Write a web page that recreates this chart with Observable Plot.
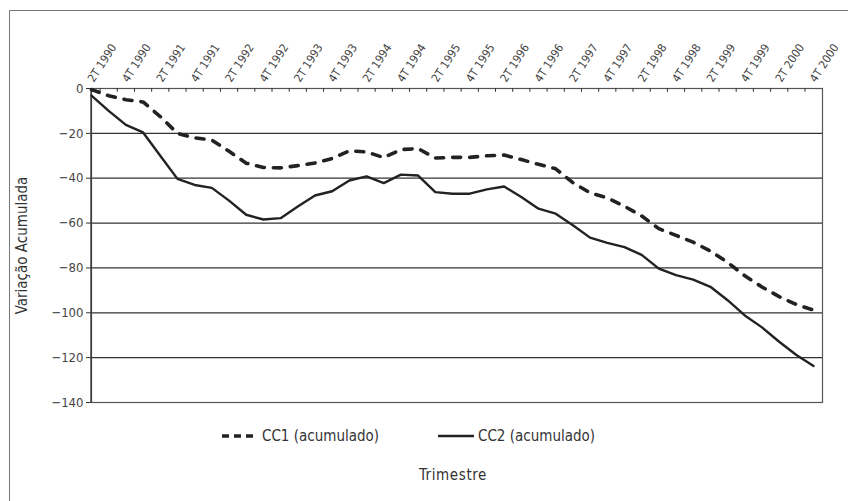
<!DOCTYPE html>
<html>
<head>
<meta charset="utf-8">
<script src="https://cdn.jsdelivr.net/npm/d3@7"></script>
<script src="https://cdn.jsdelivr.net/npm/@observablehq/plot@0.6"></script>
<style>
  html, body { margin: 0; padding: 0; background: #fff; }
  body { width: 848px; height: 501px; overflow: hidden; position: relative; font-family: "DejaVu Sans Condensed", "DejaVu Sans", sans-serif; color: #333; }
  #border { position: absolute; left: 9px; top: 10px; width: 900px; height: 600px; border: 1px solid #777; box-sizing: border-box; }
  #chart { position: absolute; left: 0; top: 0; }
  #legend { position: absolute; top: 424px; left: 0; width: 848px; height: 24px; font-size: 15px; }
  .leg { position: absolute; top: 0; display: flex; align-items: center; height: 24px; }
  #xtitle { position: absolute; top: 466px; left: 0; width: 906px; text-align: center; font-size: 15px; letter-spacing: 0.6px; }
</style>
</head>
<body>
<div id="border"></div>
<div id="chart"></div>
<div id="legend"></div>
<div id="xtitle">Trimestre</div>
<script>
// Quarters (2T 1990 .. 4T 2000)
const quarters = [];
for (let y = 1990; y <= 2000; y++) for (let q = 1; q <= 4; q++) if (!(y === 1990 && q === 1)) quarters.push(q + "T " + y);
const labelEvery = 2;
const yTicks = [0, -20, -40, -60, -80, -100, -120, -140];

const cc1 = [-0.5, -3.2, -5, -6, -12.5, -20, -22, -23, -28, -33.3, -35.2, -35.4, -34.4, -33.2, -31.2, -27.8,
  -28.3, -30.8, -27.2, -26.8, -31, -30.7, -30.7, -30, -29.7, -31.7, -33.8, -35.8, -42, -46.5, -48.8, -52.5,
  -56.8, -62.5, -65.5, -68.5, -72.5, -77.5, -83.5, -88.5, -92.8, -96.3, -98.8];
const cc2 = [-3.2, -10, -16.2, -19.6, -30, -40.3, -43, -44.3, -50, -56.3, -58.4, -57.8, -52.6, -47.7, -45.8, -41,
  -39.2, -42.2, -38.4, -38.8, -46.2, -46.9, -46.9, -45, -43.7, -48.4, -53.6, -55.8, -61, -66.5, -68.8, -70.7,
  -74.2, -80.3, -83.2, -85.2, -88.4, -94.4, -101.2, -106.5, -112.9, -118.8, -123.7];
const seriesNames = ["CC1 (acumulado)", "CC2 (acumulado)"];
const yTitle = "Variação Acumulada";

const rows1 = cc1.map((v, i) => ({i, v}));
const rows2 = cc2.map((v, i) => ({i, v}));
const labelIdx = quarters.map((q, i) => i).filter(i => i % labelEvery === 0);
const tickIdx = quarters.map((q, i) => i + 0.5).slice(0, quarters.length - 1);

const font = "DejaVu Sans Condensed, DejaVu Sans, sans-serif";
const chart = Plot.plot({
  width: 848,
  height: 415,
  marginLeft: 91,
  marginRight: 26,
  marginTop: 88,
  marginBottom: 13,
  style: {fontFamily: font, color: "#333", background: "transparent", overflow: "visible"},
  x: {domain: [0, 42.52], axis: null},
  y: {domain: [-140, 0], axis: null},
  marks: [
    Plot.ruleY(yTicks, {stroke: "#333", strokeWidth: 1.2}),
    Plot.frame({stroke: "#555", strokeWidth: 1.2}),
    Plot.ruleX([0], {x: () => -0.03, stroke: "#333", strokeWidth: 1.3}),
    Plot.ruleX(tickIdx, {x: d => d, y1: 0, y2: -1.7, stroke: "#333", strokeWidth: 1}),
    Plot.axisY({ticks: yTicks, tickSize: 5, tickPadding: 3, fontSize: 13, label: null, stroke: "#333", fill: "#444"}),
    Plot.text([yTitle], {frameAnchor: "left", textAnchor: "middle", dx: -69, rotate: -90, fontSize: 15, fill: "#333", text: d => d}),
    Plot.text(labelIdx, {x: d => d, frameAnchor: "top", dy: -10, dx: -4.6, rotate: -57, textAnchor: "start", fontSize: 11.5, fill: "#444", text: d => quarters[d]}),
    Plot.line(rows2, {x: "i", y: "v", stroke: "#222", strokeWidth: 2.4}),
    Plot.line(rows1, {x: "i", y: "v", stroke: "#222", strokeWidth: 3.6, strokeDasharray: "8,9"})
  ]
});
document.getElementById("chart").appendChild(chart);

const leg = document.getElementById("legend");
const items = [
  {name: seriesNames[0], left: 222, dash: "7,5", w: 3.6},
  {name: seriesNames[1], left: 438, dash: null, w: 2.4}
];
for (const it of items) {
  const d = document.createElement("div");
  d.className = "leg";
  d.style.left = it.left + "px";
  d.innerHTML = `<svg width="40" height="24"><line x1="0" x2="36" y1="12" y2="12" stroke="#222" stroke-width="${it.w}" ${it.dash ? `stroke-dasharray="${it.dash}"` : ""}/></svg><span>${it.name}</span>`;
  leg.appendChild(d);
}
</script>
</body>
</html>
